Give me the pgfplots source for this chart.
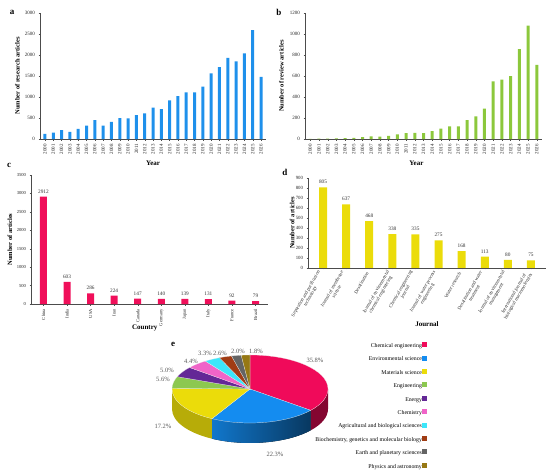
\documentclass[border=0pt]{standalone}
\usepackage{fontspec}
\setmainfont{Liberation Serif}
\usepackage{pgfplots}
\pgfplotsset{compat=1.18}
\definecolor{cA}{RGB}{30,144,235}
\definecolor{cB}{RGB}{140,200,60}
\definecolor{cC}{RGB}{240,15,90}
\definecolor{cD}{RGB}{235,220,10}
\definecolor{p1}{RGB}{240,10,90}
\definecolor{p2}{RGB}{20,140,240}
\definecolor{p3}{RGB}{235,220,10}
\definecolor{p4}{RGB}{140,200,80}
\definecolor{p5}{RGB}{100,40,150}
\definecolor{p6}{RGB}{240,100,200}
\definecolor{p7}{RGB}{60,230,250}
\definecolor{p8}{RGB}{160,60,20}
\definecolor{p9}{RGB}{100,100,100}
\definecolor{p10}{RGB}{150,120,20}
\pgfplotsset{
  panel/.style={
    scale only axis,
    axis lines*=left,
    axis line style={-, black!70, line width=0.4pt},
    tick align=outside,
    major tick length=1.5pt,
    tick style={black!70, line width=0.3pt},
    ymin=0,
    /pgf/number format/assume math mode=true,
    /pgf/number format/1000 sep={},
    tick label style={font=\fontsize{5}{5.5}\selectfont, black!85},
    ylabel style={font=\bfseries\fontsize{6.5}{7}\selectfont, anchor=center},
    xlabel style={font=\bfseries\fontsize{7}{8}\selectfont, anchor=center},
    clip=false,
    ybar,
  },
}
% side wall of a pie slice between parametric angles #2 and #3
\newcommand\sidewall[4]{%
  \fill[#1] (axis cs:{78*cos(#2)},{34*sin(#2)}) arc[start angle=#2,end angle=#3,x radius=78pt,y radius=34pt]
    -- (axis cs:{78*cos(#3)},{34*sin(#3)-#4}) arc[start angle=#3,end angle=#2,x radius=78pt,y radius=34pt] -- cycle;}
\newcommand\slice[3]{%
  \filldraw[#1, draw=white!85!gray, line width=0.2pt] (axis cs:0,0) -- (axis cs:{78*cos(#2)},{34*sin(#2)})
    arc[start angle=#2,end angle=#3,x radius=78pt,y radius=34pt] -- cycle;}
\begin{document}
\begin{tikzpicture}
\useasboundingbox (0,0) rectangle (550pt,475pt);
% panel letters
\node[font=\bfseries\fontsize{9}{10}\selectfont] at (12pt,463pt) {a};
\node[font=\bfseries\fontsize{9}{10}\selectfont] at (279pt,463pt) {b};
\node[font=\bfseries\fontsize{9}{10}\selectfont] at (9pt,310pt) {c};
\node[font=\bfseries\fontsize{9}{10}\selectfont] at (285pt,303pt) {d};
\node[font=\bfseries\fontsize{9}{10}\selectfont] at (173pt,131pt) {e};

% ---------- panel a
\begin{axis}[panel, at={(40pt,336pt)}, anchor=south west, width=226pt, height=126pt,
  xmin=-0.6, xmax=26.6, ymax=3000, ytick={0,500,...,3000},
  xtick={0,...,26},
  xticklabels={2000,2001,2002,2003,2004,2005,2006,2007,2008,2009,2010,2011,2012,2013,2014,2015,2016,2017,2018,2019,2020,2021,2022,2023,2024,2025,2026},
  x tick label style={rotate=90, anchor=east, font=\fontsize{5}{5.5}\selectfont},
  bar width=3pt,
  ylabel={Number of research articles}, ylabel style={at={(axis description cs:-0.10,0.5)}},
  xlabel={Year}, xlabel style={at={(axis description cs:0.5,-0.19)}}]
\addplot[fill=cA, draw=none] coordinates {
(0,120) (1,150) (2,210) (3,170) (4,240) (5,320) (6,450) (7,320) (8,410) (9,500)
(10,490) (11,570) (12,610) (13,750) (14,710) (15,920) (16,1020) (17,1110) (18,1110)
(19,1250) (20,1560) (21,1710) (22,1930) (23,1850) (24,2040) (25,2590) (26,1480)};
\end{axis}

% ---------- panel b
\begin{axis}[panel, at={(305pt,336pt)}, anchor=south west, width=237pt, height=126pt,
  xmin=-0.6, xmax=26.6, ymax=1200, ytick={0,200,...,1200},
  xtick={0,...,26},
  xticklabels={2000,2001,2002,2003,2004,2005,2006,2007,2008,2009,2010,2011,2012,2013,2014,2015,2016,2017,2018,2019,2020,2021,2022,2023,2024,2025,2026},
  x tick label style={rotate=90, anchor=east, font=\fontsize{5}{5.5}\selectfont},
  bar width=3pt,
  ylabel={Number of review articles}, ylabel style={at={(axis description cs:-0.10,0.5)}},
  xlabel={Year}, xlabel style={at={(axis description cs:0.47,-0.19)}}]
\addplot[fill=cB, draw=none] coordinates {
(0,2) (1,3) (2,4) (3,6) (4,8) (5,10) (6,18) (7,25) (8,22) (9,30)
(10,45) (11,55) (12,58) (13,55) (14,75) (15,100) (16,120) (17,120) (18,180)
(19,215) (20,290) (21,550) (22,565) (23,600) (24,855) (25,1080) (26,705)};
\end{axis}

% ---------- panel c
\begin{axis}[panel, at={(31pt,171pt)}, anchor=south west, width=237pt, height=129pt,
  xmin=-0.53, xmax=9.53, ymax=3500, ytick={0,500,...,3500},
  y tick label style={font=\fontsize{4.6}{5}\selectfont},
  xtick={0,...,9},
  xticklabels={China,India,USA,Iran,Canada,Germany,Japan,Italy,France,Brazil},
  x tick label style={rotate=90, anchor=east, font=\fontsize{4.6}{5}\selectfont},
  bar width=7pt,
  nodes near coords,
  nodes near coords style={font=\fontsize{5.3}{6}\selectfont, black!80},
  ylabel={Number of articles}, ylabel style={at={(axis description cs:-0.089,0.5)}},
  xlabel={Country}, xlabel style={at={(axis description cs:0.48,-0.186)}}]
\addplot[fill=cC, draw=none] coordinates {
(0,2912) (1,603) (2,286) (3,224) (4,147) (5,140) (6,139) (7,131) (8,92) (9,79)};
\end{axis}

% ---------- panel d
\begin{axis}[panel, at={(308pt,207pt)}, anchor=south west, width=238pt, height=90pt,
  xmin=-0.65, xmax=9.65, ymax=900, ytick={0,100,...,900},
  y tick label style={font=\fontsize{4.8}{5}\selectfont},
  xtick={0,...,9},
  xticklabels={{Separation and purification\\technology},{Journal of membrane\\science},{Desalination},{Journal of environmental\\chemical engineering},{Chemical engineering\\journal},{Journal of water process\\engineering},{Water research},{Desalination and water\\treatment},{Journal of environmental\\management},{International journal of\\biological macromolecules}},
  x tick label style={rotate=60, anchor=east, align=center, font=\fontsize{4.8}{5.2}\selectfont},
  bar width=8pt,
  nodes near coords,
  nodes near coords style={font=\fontsize{5.3}{6}\selectfont, black!80},
  ylabel={Number of articles}, ylabel style={at={(axis description cs:-0.067,0.5)}},
  xlabel={Journal}, xlabel style={at={(axis description cs:0.5,-0.62)}}]
\addplot[fill=cD, draw=none] coordinates {
(0,805) (1,637) (2,468) (3,338) (4,335) (5,275) (6,168) (7,113) (8,80) (9,75)};
\end{axis}

% ---------- panel e (pie)
\begin{axis}[hide axis, scale only axis, x=1pt, y=1pt,
  xmin=-90, xmax=180, ymin=-90, ymax=50,
  at={(160pt,-4pt)}, anchor=south west, clip=false,
  legend plot pos=right,
  legend image code/.code={\fill[#1] (0.6pt,-0.3pt) rectangle (4.6pt,3.7pt);},
  legend style={at={(axis cs:180,49)}, anchor=north east, draw=none, fill=none,
    font=\fontsize{5.8}{6}\selectfont, legend cell align=right, row sep=6.5pt,
    nodes={inner sep=0.5pt, text height=4pt, text depth=1pt}}]
% side walls (front part of the pie)
\sidewall{p1!55!black}{0}{-38.88}{20}
\sidewall{left color=p2!85!black, right color=p2!40!black}{-38.88}{-119.16}{20}
\sidewall{p3!78!black}{-119.16}{-180}{20}
% tops
\slice{p1}{90}{-38.88}
\slice{p2}{-38.88}{-119.16}
\slice{p3}{-119.16}{-181.08}
\slice{p4}{-181.08}{-201.24}
\slice{p5}{-201.24}{-219.24}
\slice{p6}{-219.24}{-235.08}
\slice{p7}{-235.08}{-246.96}
\slice{p8}{-246.96}{-256.32}
\slice{p9}{-256.32}{-263.52}
\slice{p10}{-263.52}{-270}
% percentage labels
\begin{scope}[every node/.style={font=\fontsize{6.5}{7}\selectfont, text=black!65}]
\node at (axis cs:65,29) {35.8\%};
\node at (axis cs:25,-65) {22.3\%};
\node at (axis cs:-87,-37) {17.2\%};
\node at (axis cs:-87,10) {5.6\%};
\node at (axis cs:-83,19) {5.0\%};
\node at (axis cs:-59,28) {4.4\%};
\node at (axis cs:-45,36) {3.3\%};
\node at (axis cs:-30,36) {2.6\%};
\node at (axis cs:-12,38) {2.0\%};
\node at (axis cs:6,38) {1.8\%};
\end{scope}
\addlegendimage{p1}\addlegendentry{Chemical engineering}
\addlegendimage{p2}\addlegendentry{Environmental science}
\addlegendimage{p3}\addlegendentry{Materials science}
\addlegendimage{p4}\addlegendentry{Engineering}
\addlegendimage{p5}\addlegendentry{Energy}
\addlegendimage{p6}\addlegendentry{Chemistry}
\addlegendimage{p7}\addlegendentry{Agricultural and biological sciences}
\addlegendimage{p8}\addlegendentry{Biochemistry, genetics and molecular biology}
\addlegendimage{p9}\addlegendentry{Earth and planetary sciences}
\addlegendimage{p10}\addlegendentry{Physics and astronomy}
\end{axis}
\end{tikzpicture}
\end{document}
